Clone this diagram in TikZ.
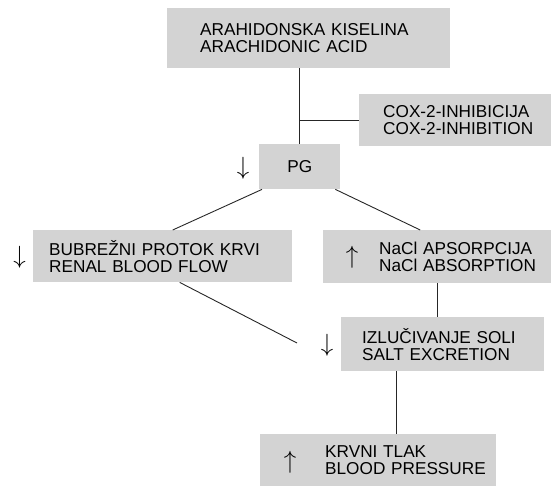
\documentclass[tikz,border=0pt]{standalone}
\usepackage{fontspec}
\setmainfont{Liberation Sans}
\definecolor{boxgray}{RGB}{211,211,211}
% two lines of box text, both indented by #1 pt
\newcommand\twolines[3]{\hspace*{#1pt}#2\\\hspace*{#1pt}#3}

\begin{document}
\begin{tikzpicture}[x=1pt, y=-1pt, font=\fontsize{17.2}{17}\selectfont,
		box/.style={fill=boxgray, anchor=north west, inner sep=0pt, align=left},
		arr/.style={inner sep=0pt, font=\fontsize{24}{24}\selectfont},
		link/.style={line width=0.9pt, black!85}]
			\useasboundingbox (0,0) rectangle (551,486);
			% boxes, placed by their top left corner
			\node[box, text width=283pt, minimum height=60pt] (arah) at (167,8)
			{\twolines{33}{ARAHIDONSKA KISELINA}{ARACHIDONIC ACID}};
			\node[box, text width=192pt, minimum height=52pt] (cox) at (359,94)
			{\twolines{24}{COX-2-INHIBICIJA}{COX-2-INHIBITION}};
			\node[box, minimum width=81pt, minimum height=45pt, align=center] (pg) at (259,144) {PG};
			\node[box, text width=259pt, minimum height=52pt] (bub) at (33,230)
			{\twolines{16}{BUBREŽNI PROTOK KRVI}{RENAL BLOOD FLOW}};
			\node[box, text width=228pt, minimum height=53pt] (nacl) at (323,230)
			{\twolines{56}{NaCl APSORPCIJA}{NaCl ABSORPTION}};
			\node[box, text width=203pt, minimum height=54pt] (izl) at (341,317)
			{\twolines{21}{IZLUČIVANJE SOLI}{SALT EXCRETION}};
			\node[box, text width=236pt, minimum height=52pt] (krv) at (260,434)
			{\twolines{65}{KRVNI TLAK}{BLOOD PRESSURE}};
			% up and down arrows
			\foreach \n/\x/\y/\s in {pgarr/243/168/\downarrow, bubarr/19.5/257.5/\downarrow,
				naclarr/352/257.5/\uparrow, izlarr/327/345/\downarrow, krvarr/290/462.5/\uparrow}
			\node[arr] (\n) at (\x,\y) {$\s$};
			% connectors
			\draw[link] (pg.north) -- (pg.north |- arah.south);
			\draw[link] (pg.north |- cox.west) -- (cox.west);
			\draw[link] ([xshift=3pt]pg.south west) -- ([xshift=10pt]bub.north);
			\draw[link] ([xshift=-5pt]pg.south east) -- ([xshift=-17pt]nacl.north);
			\draw[link] (nacl.south) -- (nacl.south |- izl.north);
			\coordinate (saltend) at (297,343);
			\draw[link] ([xshift=17pt]bub.south) -- (saltend);
			\draw[link] ([xshift=-46.5pt]izl.south) -- ([xshift=18pt]krv.north);
		\end{tikzpicture}
\end{document}
